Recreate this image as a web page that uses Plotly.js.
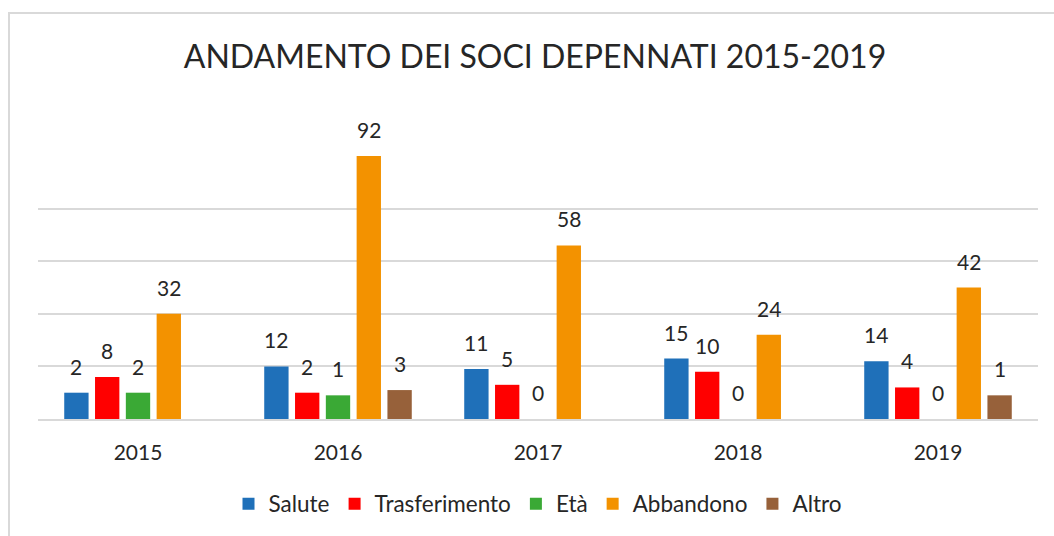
<!DOCTYPE html>
<html>
<head>
<meta charset="utf-8">
<script src="https://cdn.plot.ly/plotly-3.0.1.min.js"></script>
<style>
  html, body { margin: 0; padding: 0; background: #fff; }
  #wrap { position: relative; width: 1054px; height: 536px; overflow: hidden; }
  #frame { position: absolute; left: 8px; top: 12px; width: 1100px; height: 600px;
           border-left: 2px solid #d9d9d9; border-top: 2px solid #d9d9d9; box-sizing: border-box; }
  #chart { position: absolute; left: 0; top: 0; width: 1054px; height: 536px; }
</style>
</head>
<body>
<div id="wrap"><div id="frame"></div><div id="chart"></div></div>
<script>
// ---- data ----
const years = ["2015", "2016", "2017", "2018", "2019"];
const seriesNames = ["Salute", "Trasferimento", "Età", "Abbandono", "Altro"];
const salute        = [2, 12, 11, 15, 14];
const trasferimento = [8, 2, 5, 10, 4];
const eta           = [2, 1, 0, 0, 0];
const abbandono     = [32, 92, 58, 24, 42];
const altro         = [null, 3, null, null, 1];
const seriesColors  = ["#1f70b9", "#ff0000", "#3aa935", "#f39200", "#97613a"];

// ---- style constants ----
const FONT = "Lato, 'Open Sans', sans-serif";
const AXIS_FLOOR = 8;      // the reference's value axis starts below zero
const BARGAP = 0.23, GROUPGAP = 0.21;
const PLOT_L = 38, PLOT_R = 1038;

const allSeries = [salute, trasferimento, eta, abbandono, altro];
const catPx = (PLOT_R - PLOT_L) / years.length;
const slotPx = catPx * (1 - BARGAP) / allSeries.length;

const traces = allSeries.map((vals, i) => ({
  type: "bar",
  name: seriesNames[i],
  x: years,
  y: vals.map(v => v === null ? null : (v > 0 ? v + AXIS_FLOOR : 0)),
  base: -AXIS_FLOOR,
  marker: { color: seriesColors[i] },
  hoverinfo: "skip"
}));

const annotations = [];
allSeries.forEach((vals, i) => {
  vals.forEach((v, j) => {
    if (v === null) return;
    annotations.push({
      x: j, y: v > 0 ? v : -AXIS_FLOOR,
      xref: "x", yref: "y",
      text: String(v), showarrow: false,
      xanchor: "center", yanchor: "bottom",
      xshift: (i - (allSeries.length - 1) / 2) * slotPx,
      yshift: 12,
      font: { family: FONT, size: 21, color: "#262626" }
    });
  });
});

const layout = {
  width: 1054, height: 536,
  margin: { l: PLOT_L, r: 1054 - PLOT_R, t: 156, b: 116 },
  paper_bgcolor: "rgba(0,0,0,0)", plot_bgcolor: "rgba(0,0,0,0)",
  font: { family: FONT, color: "#262626" },
  title: {
    text: "ANDAMENTO DEI SOCI DEPENNATI 2015-2019",
    x: 535 / 1054, xanchor: "center", xref: "container",
    y: 1 - 57 / 536, yanchor: "middle", yref: "container",
    font: { family: FONT, size: 32, color: "#262626" }
  },
  barmode: "group", bargap: BARGAP, bargroupgap: GROUPGAP,
  xaxis: {
    type: "category", range: [-0.5, years.length - 0.5],
    showgrid: false, zeroline: false,
    showline: true, linecolor: "#d9d9d9", linewidth: 2,
    ticks: "", ticklabelstandoff: 14,
    tickfont: { family: FONT, size: 21, color: "#262626" }
  },
  yaxis: {
    range: [-AXIS_FLOOR, 100 - AXIS_FLOOR],
    tick0: -AXIS_FLOOR, dtick: 20,
    showgrid: true, gridcolor: "#d9d9d9", gridwidth: 2,
    zeroline: false, showticklabels: false, ticks: ""
  },
  showlegend: true,
  legend: {
    orientation: "h", x: 0.5, xanchor: "center",
    y: -(504 - 420) / 264, yanchor: "middle",
    font: { family: FONT, size: 22.5, color: "#262626" },
    traceorder: "normal"
  },
  annotations: annotations
};

Plotly.newPlot("chart", traces, layout, { displayModeBar: false, staticPlot: true });
</script>
</body>
</html>
